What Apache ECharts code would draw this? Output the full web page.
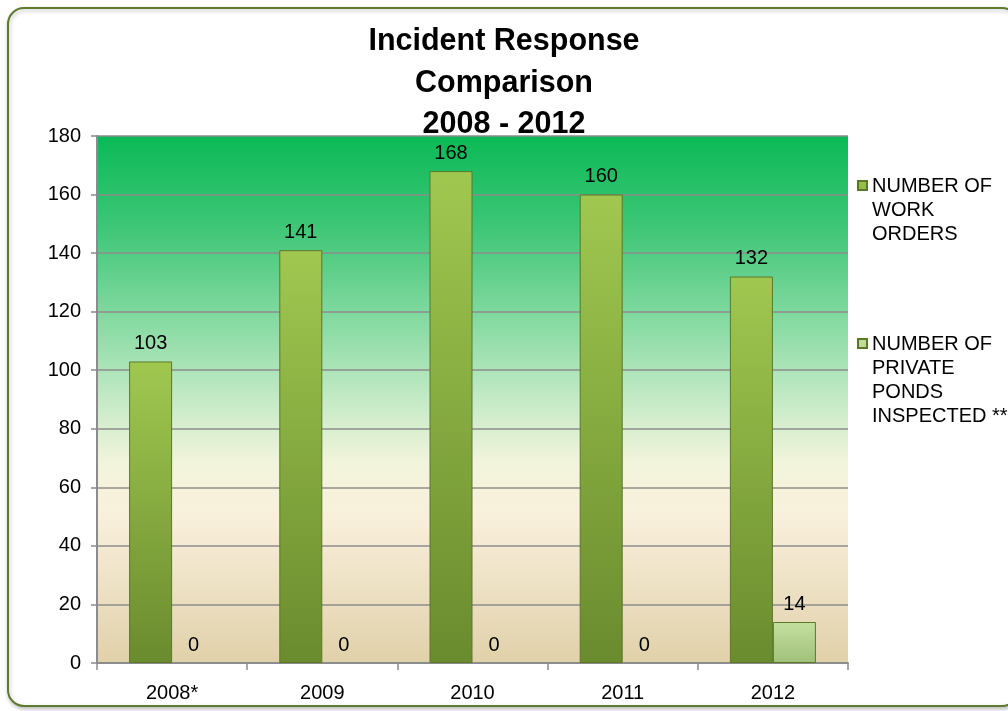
<!DOCTYPE html>
<html>
<head>
<meta charset="utf-8">
<script src="https://cdn.jsdelivr.net/npm/echarts@6/dist/echarts.min.js"></script>
<style>
html,body{margin:0;padding:0;background:#fff;}
#chart{width:1008px;height:711px;}
</style>
</head>
<body>
<div id="chart"></div>
<script>
var categories = ['2008*', '2009', '2010', '2011', '2012'];
var workOrders = [103, 141, 168, 160, 132];
var pondsInspected = [0, 0, 0, 0, 14];
var seriesNames = ['NUMBER OF WORK ORDERS', 'NUMBER OF PRIVATE PONDS INSPECTED **'];
var legendLabels = ['NUMBER OF\nWORK\nORDERS', 'NUMBER OF\nPRIVATE\nPONDS\nINSPECTED **'];
var titleText = 'Incident Response\nComparison\n2008 - 2012';

var chart = echarts.init(document.getElementById('chart'));
var font = 'Arial, "Liberation Sans", sans-serif';

function grad(c1, c2) {
  return new echarts.graphic.LinearGradient(0, 0, 0, 1, [
    {offset: 0, color: c1}, {offset: 1, color: c2}
  ]);
}
var darkBar = grad('#a0c850', '#6a8b2e');
var lightBar = grad('#c4e09f', '#a0c07a');

function legendFmt(name) {
  return legendLabels[seriesNames.indexOf(name)];
}
function toItems(arr) {
  return arr.map(function (v) {
    return v === 0 ? {value: v, itemStyle: {borderWidth: 0}} : v;
  });
}
var labelStyle = {show: true, position: 'top', distance: 8, fontFamily: font, fontSize: 20, color: '#000'};
var legendText = {fontFamily: font, fontSize: 20, color: '#000', lineHeight: 24};

chart.setOption({
  animation: false,
  title: {
    text: titleText,
    left: 'center',
    top: 21,
    padding: [0, 0, 0, 6],
    textStyle: {fontFamily: font, fontSize: 30.5, fontWeight: 'bold', color: '#000', lineHeight: 41.5}
  },
  graphic: [{
    type: 'rect', z: -10,
    shape: {x: 8, y: 8, width: 1010, height: 698, r: 16},
    style: {fill: '#fff', stroke: '#5f7a2e', lineWidth: 2,
      shadowBlur: 4, shadowColor: 'rgba(0,0,0,0.25)', shadowOffsetX: 1, shadowOffsetY: 2}
  }],
  legend: [{
    orient: 'vertical', left: 857, top: 173, padding: 0,
    data: [seriesNames[0]],
    icon: 'path://M0,7h9v9h-9z M0,0L0.001,0 M0,72L0.001,72',
    itemWidth: 9, itemHeight: 72,
    formatter: legendFmt,
    textStyle: legendText
  }, {
    orient: 'vertical', left: 857, top: 331, padding: 0,
    data: [seriesNames[1]],
    icon: 'path://M0,7h9v9h-9z M0,0L0.001,0 M0,96L0.001,96',
    itemWidth: 9, itemHeight: 96,
    formatter: legendFmt,
    textStyle: legendText
  }],
  grid: {
    left: 97, right: 160, top: 136, bottom: 48,
    show: true,
    borderWidth: 0,
    backgroundColor: new echarts.graphic.LinearGradient(0, 0, 0, 1, [
      {offset: 0, color: '#0bb956'},
      {offset: 0.17, color: '#3dc676'},
      {offset: 0.33, color: '#7dd89d'},
      {offset: 0.5, color: '#c4eac6'},
      {offset: 0.62, color: '#f2f4dc'},
      {offset: 0.72, color: '#f9f0dc'},
      {offset: 1, color: '#e1d1aa'}
    ])
  },
  xAxis: {
    type: 'category',
    data: categories,
    axisLine: {show: true, lineStyle: {color: '#8c8c8c', width: 2}},
    axisTick: {show: true, alignWithLabel: false, length: 7, lineStyle: {color: '#8c8c8c', width: 1.5}},
    axisLabel: {fontFamily: font, fontSize: 20, color: '#000', margin: 20}
  },
  yAxis: {
    type: 'value',
    min: 0, max: 180, interval: 20,
    axisLine: {show: true, lineStyle: {color: '#8c8c8c', width: 2}},
    axisTick: {show: true, length: 6, lineStyle: {color: '#8c8c8c', width: 1.5}},
    axisLabel: {fontFamily: font, fontSize: 20, color: '#000', margin: 16},
    splitLine: {show: true, lineStyle: {color: '#8c8c8c', width: 1.5}}
  },
  series: [{
    name: seriesNames[0],
    type: 'bar',
    data: toItems(workOrders),
    barWidth: 43,
    barGap: '0%',
    itemStyle: {color: darkBar, borderColor: '#5b7828', borderWidth: 1},
    label: labelStyle
  }, {
    name: seriesNames[1],
    type: 'bar',
    data: toItems(pondsInspected),
    barWidth: 43,
    itemStyle: {color: lightBar, borderColor: '#5b7828', borderWidth: 1},
    label: labelStyle
  }]
});
</script>
</body>
</html>
